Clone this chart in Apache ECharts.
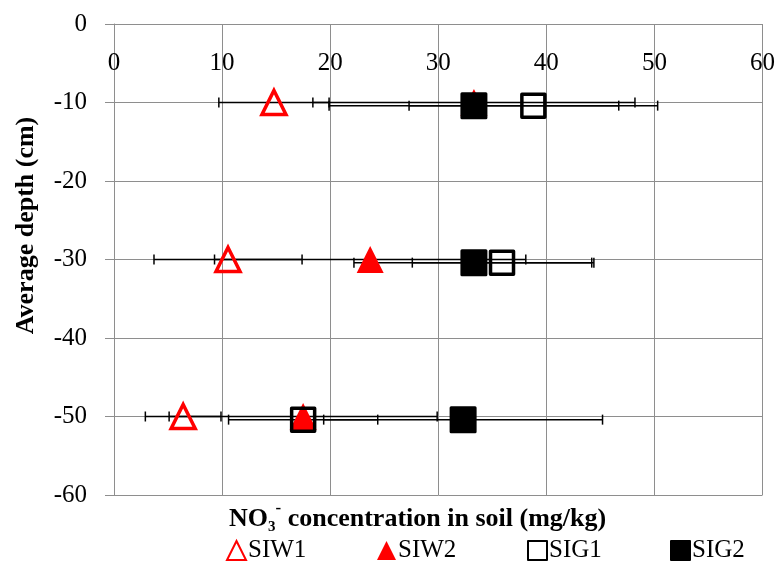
<!DOCTYPE html>
<html>
<head>
<meta charset="utf-8">
<script src="https://cdn.jsdelivr.net/npm/echarts@6/dist/echarts.min.js"></script>
<style>html,body{margin:0;padding:0;background:#fff}#c{width:778px;height:562px}</style>
</head>
<body>
<div id="c"></div>
<script>
// ---- data ----
const seriesNames = ['SIW1', 'SIW2', 'SIG1', 'SIG2'];
const depthSIW = [-10, -30, -50];
const depthSIG = [-10.4, -30.4, -50.4];
const siw1 = [14.8, 10.55, 6.4];
const siw1Err = [5.1, 6.85, 3.5];
const siw2 = [33.3, 23.7, 17.5];
const siw2Err = [14.9, 14.4, 12.4];
const sig1 = [38.8, 35.9, 17.5];
const sig1Err = [11.5, 8.3, 6.9];
const sig2 = [33.3, 33.3, 32.3];
const sig2Err = [13.4, 11.1, 12.9];
const xTicks = [0, 10, 20, 30, 40, 50, 60];
const yTicks = [0, -10, -20, -30, -40, -50, -60];

const FONT = 'Liberation Serif';
const vals = [siw1, siw2, sig1, sig2];
const errs = [siw1Err, siw2Err, sig1Err, sig2Err];
const depths = [depthSIW, depthSIW, depthSIG, depthSIG];

function errRender(params, api) {
  const x = api.value(0), y = api.value(1), e = api.value(2);
  const l = api.coord([x - e, y]), r = api.coord([x + e, y]);
  const h = 5;
  const st = {stroke: '#000', lineWidth: 1.5};
  return {type: 'group', children: [
    {type: 'line', shape: {x1: l[0], y1: l[1], x2: r[0], y2: r[1]}, style: st},
    {type: 'line', shape: {x1: l[0], y1: l[1] - h, x2: l[0], y2: l[1] + h}, style: st},
    {type: 'line', shape: {x1: r[0], y1: r[1] - h, x2: r[0], y2: r[1] + h}, style: st}
  ]};
}

const markerStyles = [
  {symbol: 'triangle', symbolSize: 24, itemStyle: {opacity: 1, color: 'rgba(0,0,0,0)', borderColor: '#ff0000', borderWidth: 3.5}},
  {symbol: 'triangle', symbolSize: 27, itemStyle: {opacity: 1, color: '#ff0000', borderWidth: 0}},
  {symbol: 'rect', symbolSize: 23, itemStyle: {opacity: 1, color: 'rgba(0,0,0,0)', borderColor: '#000', borderWidth: 3.5, borderJoin: 'round'}},
  {symbol: 'rect', symbolSize: 24, itemStyle: {opacity: 1, color: '#000', borderColor: '#000', borderWidth: 3, borderJoin: 'round'}}
];

const series = [];
seriesNames.forEach((n, i) => {
  series.push({
    type: 'custom', name: n + ' err', renderItem: errRender, z: 1,
    data: vals[i].map((v, k) => [v, depths[i][k], errs[i][k]]),
    silent: true
  });
});
seriesNames.forEach((n, i) => {
  series.push(Object.assign({
    type: 'scatter', name: n, z: 3 + i,
    emphasis: {disabled: true},
    data: vals[i].map((v, k) => [v, depths[i][k]])
  }, markerStyles[i]));
});

const legendLefts = [221, 372, 522, 665];
const legends = seriesNames.map((n, i) => ({
  data: [n], left: legendLefts[i], top: 533,
  itemWidth: 19, itemHeight: 19, itemGap: 0,
  textStyle: {fontFamily: FONT, fontSize: 25, color: '#000', padding: [0, 0, 0, -3]}
}));

const chart = echarts.init(document.getElementById('c'), null, {renderer: 'canvas'});
chart.setOption({
  animation: false,
  backgroundColor: '#fff',
  textStyle: {fontFamily: FONT},
  grid: {left: 114, right: 14, top: 24, bottom: 67, containLabel: false},
  title: {
    left: 229, top: 500, padding: 0,
    text: '{b|NO}{sub|3}{sup|-}{b| concentration in soil (mg/kg)}',
    textStyle: {
      rich: {
        b: {fontFamily: FONT, fontWeight: 'bold', fontSize: 26, color: '#000', lineHeight: 32, verticalAlign: 'bottom'},
        sub: {fontFamily: FONT, fontWeight: 'bold', fontSize: 15, color: '#000', verticalAlign: 'bottom', padding: [0, 0, -3, 0]},
        sup: {fontFamily: FONT, fontWeight: 'bold', fontSize: 17, color: '#000', verticalAlign: 'top', padding: [0, 0, 0, 0]}
      }
    }
  },
  legend: legends,
  xAxis: {
    type: 'value', position: 'top', min: 0, max: 60, interval: 10,
    axisLine: {show: false}, axisTick: {show: false},
    axisLabel: {inside: true, margin: 27, fontFamily: FONT, fontSize: 25, color: '#000',
      formatter: v => xTicks.indexOf(v) >= 0 ? String(v) : ''},
    splitLine: {show: true, lineStyle: {color: '#8e8e8e', width: 1}}
  },
  yAxis: {
    type: 'value', min: -60, max: 0, interval: 10,
    name: 'Average depth (cm)', nameLocation: 'middle', nameGap: 75, nameRotate: 90,
    nameTextStyle: {fontFamily: FONT, fontWeight: 'bold', fontSize: 26, color: '#000', padding: [0, 0, 0, 68]},
    axisLine: {show: true, onZero: false, lineStyle: {color: '#8e8e8e', width: 1}},
    axisTick: {show: true, inside: false, length: 9, lineStyle: {color: '#8e8e8e'}},
    axisLabel: {margin: 27, fontFamily: FONT, fontSize: 25, color: '#000',
      formatter: v => yTicks.indexOf(v) >= 0 ? String(v) : ''},
    splitLine: {show: true, lineStyle: {color: '#8e8e8e', width: 1}}
  },
  series: series
});
</script>
</body>
</html>
